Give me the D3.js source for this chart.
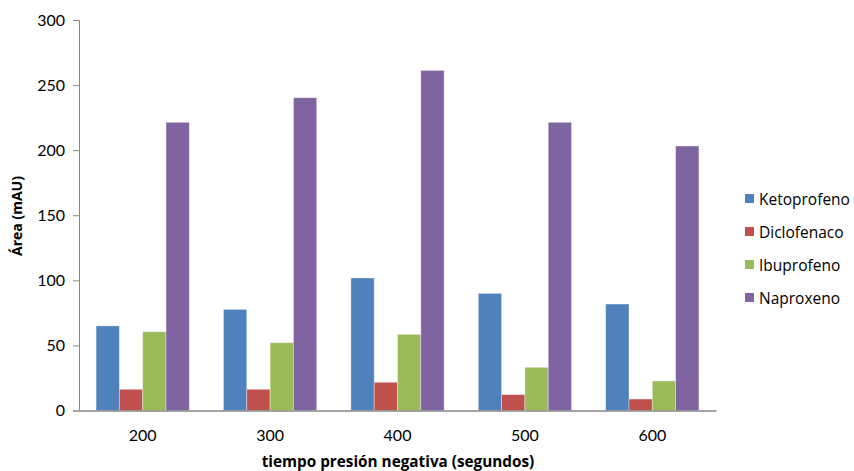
<!DOCTYPE html>
<html>
<head>
<meta charset="utf-8">
<script src="https://cdn.jsdelivr.net/npm/d3@7"></script>
<style>
  body { margin: 0; background: #fff; }
  svg { display: block; font-family: Lato, "Open Sans", sans-serif; }
</style>
</head>
<body>
<svg id="chart" width="854" height="471"></svg>
<script>
// Tiempo de presión negativa (s) y área de pico (mAU) por analito
const categories = ["200", "300", "400", "500", "600"];
const seriesNames = ["Ketoprofeno", "Diclofenaco", "Ibuprofeno", "Naproxeno"];
const ketoprofeno = [65, 77.7, 101.8, 90, 81.8];
const diclofenaco = [16.3, 16.3, 21.7, 12.2, 8.8];
const ibuprofeno = [60.5, 52.1, 58.5, 33.2, 22.7];
const naproxeno = [221.4, 240.3, 261.3, 221.4, 203.2];
const yTicks = [0, 50, 100, 150, 200, 250, 300];
const colors = ["#4F81BD", "#C0504D", "#9BBB59", "#8064A2"];

const seriesValues = [ketoprofeno, diclofenaco, ibuprofeno, naproxeno];

const svg = d3.select("#chart");
const plot = { left: 79, right: 716, top: 20, bottom: 410.5 };

const x0 = d3.scaleBand().domain(categories).range([plot.left, plot.right]).paddingInner(0.268).paddingOuter(0.134);
const x1 = d3.scaleBand().domain(seriesNames).range([0, x0.bandwidth()]);
const y = d3.scaleLinear().domain([0, 300]).range([plot.bottom, plot.top]);
const color = d3.scaleOrdinal().domain(seriesNames).range(colors);

// Bars
const groups = svg.append("g").selectAll("g")
  .data(categories)
  .join("g")
  .attr("transform", d => `translate(${x0(d)},0)`);

groups.selectAll("rect")
  .data((c, i) => seriesNames.map((s, k) => ({ s, v: seriesValues[k][i] })))
  .join("rect")
  .attr("x", d => x1(d.s))
  .attr("width", x1.bandwidth())
  .attr("y", d => y(d.v))
  .attr("height", d => y(0) - y(d.v))
  .attr("fill", d => color(d.s))
  .attr("stroke", "rgba(255,255,255,0.45)")
  .attr("stroke-width", 0.8);

// Y axis
const yAxis = svg.append("g")
  .attr("transform", `translate(${plot.left},0)`)
  .call(d3.axisLeft(y).tickValues(yTicks).tickSize(6).tickPadding(8));
yAxis.select(".domain").attr("stroke", "#868686");
yAxis.selectAll(".tick line").attr("stroke", "#868686");
yAxis.selectAll(".tick text").attr("font-size", 16).attr("fill", "#000").attr("font-family", "Lato, sans-serif");

// X axis
const xAxis = svg.append("g")
  .attr("transform", `translate(0,${plot.bottom})`)
  .call(d3.axisBottom(x0).tickSize(0).tickPadding(19).tickSizeOuter(0));
xAxis.select(".domain").attr("stroke", "#868686").attr("stroke-width", 1.3);
xAxis.selectAll(".tick text").attr("font-size", 16).attr("fill", "#000").attr("font-family", "Lato, sans-serif");

// Axis titles
svg.append("text")
  .attr("x", 398)
  .attr("y", 467)
  .attr("text-anchor", "middle")
  .attr("font-family", "'Open Sans', sans-serif")
  .attr("font-weight", "bold")
  .attr("font-size", 15.3)
  .text("tiempo presión negativa (segundos)");

svg.append("text")
  .attr("transform", "translate(22,216) rotate(-90)")
  .attr("text-anchor", "middle")
  .attr("font-family", "'Open Sans', sans-serif")
  .attr("font-weight", "bold")
  .attr("font-size", 14)
  .text("Área (mAU)");

// Legend
const legend = svg.append("g").attr("transform", "translate(745,199)");
const items = legend.selectAll("g")
  .data(seriesNames)
  .join("g")
  .attr("transform", (d, i) => `translate(0,${i * 33})`);
items.append("rect")
  .attr("x", 0).attr("y", -5)
  .attr("width", 9).attr("height", 9)
  .attr("fill", d => color(d));
items.append("text")
  .attr("x", 14)
  .attr("y", 6)
  .attr("font-family", "'Open Sans', sans-serif")
  .attr("font-size", 15.5)
  .text(d => d);
</script>
</body>
</html>
